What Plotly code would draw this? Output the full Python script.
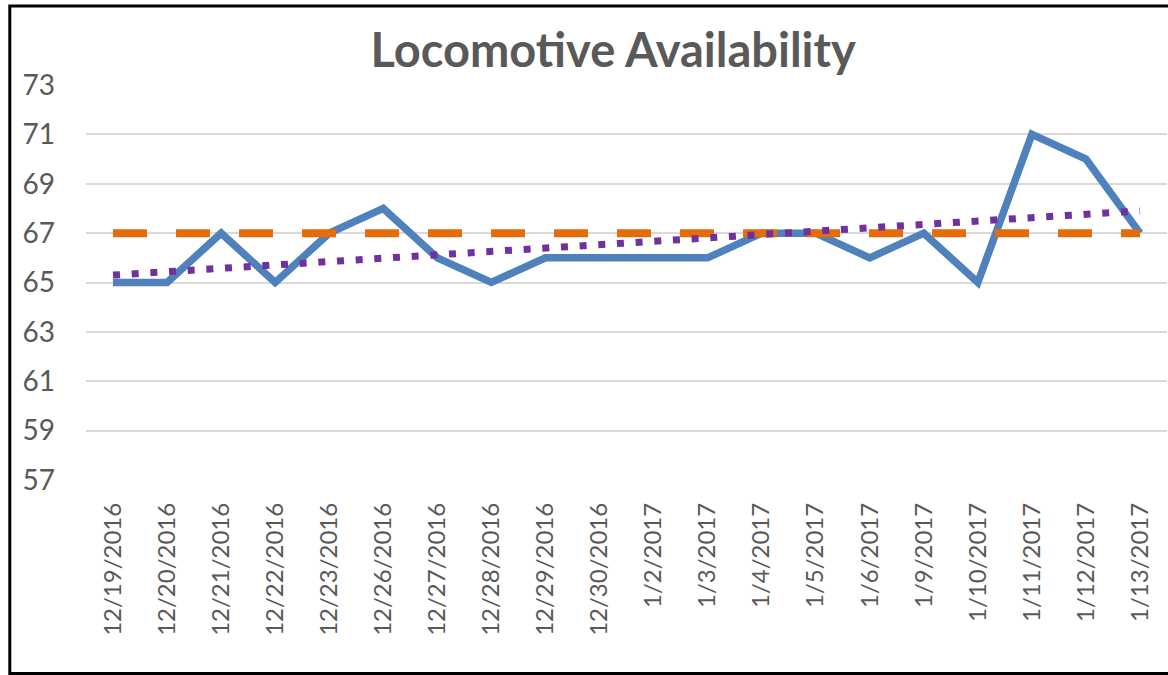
import plotly.graph_objects as go

# data
dates = ["12/19/2016", "12/20/2016", "12/21/2016", "12/22/2016", "12/23/2016",
         "12/26/2016", "12/27/2016", "12/28/2016", "12/29/2016", "12/30/2016",
         "1/2/2017", "1/3/2017", "1/4/2017", "1/5/2017", "1/6/2017",
         "1/9/2017", "1/10/2017", "1/11/2017", "1/12/2017", "1/13/2017"]
availability = [65, 65, 67, 65, 67, 68, 66, 65, 66, 66,
                66, 66, 67, 67, 66, 67, 65, 71, 70, 67]
target = [67] * len(dates)
trend_dates = [dates[0], dates[-1]]
trend_vals = [65.3, 67.9]
y_ticks = [57, 59, 61, 63, 65, 67, 69, 71, 73]

fig = go.Figure()

fig.add_trace(go.Scatter(x=dates, y=availability, mode="lines",
                         line=dict(color="#4F81BD", width=7.5),
                         showlegend=False))
fig.add_trace(go.Scatter(x=dates, y=target, mode="lines",
                         line=dict(color="#E46C0A", width=8, dash="34px,29px"),
                         showlegend=False))
fig.add_trace(go.Scatter(x=trend_dates, y=trend_vals, mode="lines",
                         line=dict(color="#7030A0", width=7, dash="7px,11.7px"),
                         showlegend=False))

fig.update_layout(
    width=1168, height=675,
    margin=dict(l=86, r=1, t=85, b=195),
    paper_bgcolor="white", plot_bgcolor="white",
    font=dict(family="Lato", color="#595959"),
    title=dict(text="<b>Locomotive Availability</b>", x=0.525, xanchor="center",
               y=0.925, yanchor="middle",
               font=dict(size=47, color="#595959", family="Lato")),
    xaxis=dict(type="category", range=[-0.5, len(dates) - 0.5],
               tickangle=-90, tickfont=dict(size=24, color="#595959"),
               showgrid=False, showline=False, ticks="",
               ticklabelstandoff=17),
    yaxis=dict(range=[57, 73], tickvals=y_ticks,
               tickfont=dict(size=28, color="#595959"),
               showgrid=True, gridcolor="#D9D9D9", gridwidth=2,
               zeroline=False, showline=False, ticks="",
               ticklabelstandoff=30),
    shapes=[dict(type="rect", xref="paper", yref="paper",
                 x0=-0.0705, x1=1.02, y0=-0.49, y1=1.2,
                 line=dict(color="black", width=3))],
)

fig.write_html("out.html", config={"displayModeBar": False},
               post_script="document.body.style.margin='0';")
